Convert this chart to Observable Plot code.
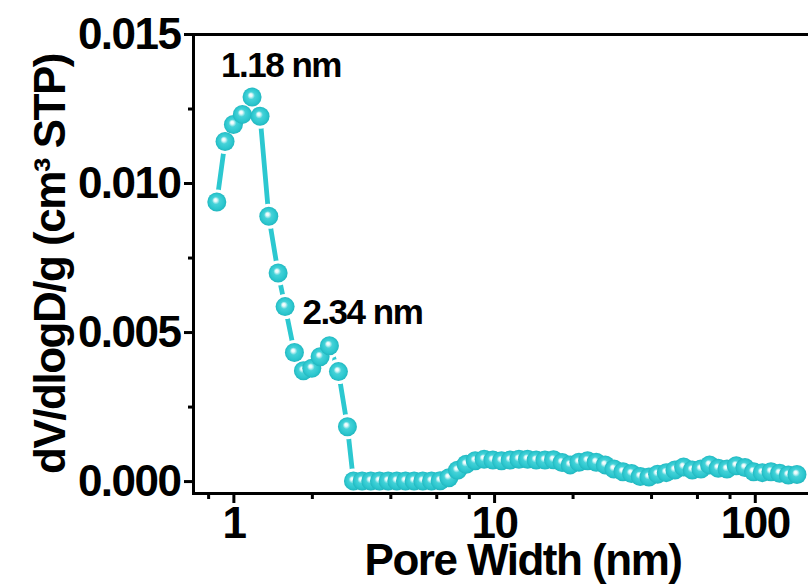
<!DOCTYPE html>
<html><head><meta charset="utf-8">
<script src="https://cdn.jsdelivr.net/npm/d3@7"></script>
<script src="https://cdn.jsdelivr.net/npm/@observablehq/plot@0.6"></script>
<style>
body{margin:0;background:#fff;}
svg text{letter-spacing:-1.5px;}
</style>
</head><body><div id="chart"></div>
<script>
// Pore width (nm)
const poreWidth = [0.860, 0.925, 0.996, 1.078, 1.174, 1.260, 1.361, 1.478, 1.572, 1.707,
  1.848, 1.990, 2.142, 2.325, 2.518, 2.726, 2.875, 3.104, 3.351, 3.618,
  3.906, 4.217, 4.552, 4.914, 5.306, 5.728, 6.184, 6.677, 7.208, 7.780,
  8.427, 9.12, 9.85, 10.63, 11.48, 12.40, 13.38, 14.44, 15.60, 16.83,
  18.16, 19.50, 21.06, 22.73, 24.54, 26.57, 28.70, 31.08, 33.52, 36.21,
  39.09, 42.2, 45.55, 49.19, 53.09, 57.32, 61.89, 66.79, 72.11, 77.88,
  84.53, 91.3, 98.5, 106.4, 114.9, 124.0, 133.9, 144.5];
// dV/dlogD (cm3 STP /g)
const dVdlogD = [0.00938, 0.01141, 0.01198, 0.01232, 0.01290, 0.01226, 0.00890, 0.00700, 0.00587, 0.00433,
  0.00372, 0.00380, 0.00419, 0.00456, 0.00369, 0.00184, 0.00002, 0.00002, 0.00002, 0.00002,
  0.00002, 0.00002, 0.00002, 0.00002, 0.00002, 0.00002, 0.00003, 0.00013, 0.00038, 0.00058,
  0.00070, 0.00075, 0.00072, 0.00070, 0.00072, 0.00075, 0.00075, 0.00072, 0.00072, 0.00073,
  0.00064, 0.00056, 0.00065, 0.00070, 0.00065, 0.00056, 0.00042, 0.00033, 0.00027, 0.00017,
  0.00015, 0.00025, 0.00030, 0.00039, 0.00049, 0.00039, 0.00042, 0.00056, 0.00045, 0.00042,
  0.00053, 0.00047, 0.00033, 0.00030, 0.00033, 0.00028, 0.00022, 0.00024];

const xMajorTicks = [1, 10, 100];
const xMinorTicks = [0.8, 2, 4, 6, 8, 20, 40, 60, 80];
const yMajorTicks = [0, 0.005, 0.010, 0.015];
const yMinorTicks = [0.0025, 0.0075, 0.0125];
const peakLabels = ["1.18 nm", "2.34 nm"];
const peakIndex = [4, 13];
const xTitle = "Pore Width (nm)";
const yTitle = "dV/dlogD/g (cm³ STP)";

const data = poreWidth.map((w, i) => ({w, v: dVdlogD[i]}));
const peaks = peakIndex.map((k, j) => ({w: poreWidth[k], v: dVdlogD[k], label: peakLabels[j]}));

const teal = "#2cc8d0";

const plot = Plot.plot({
  width: 808,
  height: 587,
  marginLeft: 193,
  marginRight: 0,
  marginTop: 34,
  marginBottom: 94,
  style: {fontFamily: "'Liberation Sans', Arial, sans-serif", fontSize: "44px", fontWeight: "bold", color: "#000", background: "#fff"},
  x: {type: "log", domain: [0.7, 160], axis: null},
  y: {domain: [-0.0004, 0.015], axis: null},
  marks: [
    Plot.line(data, {x: "w", y: "v", stroke: teal, strokeWidth: 4.8}),
    Plot.dot(data, {x: "w", y: "v", r: 12.5, fill: "#fff", stroke: "none"}),
    Plot.dot(data, {x: "w", y: "v", r: 9.5, fill: "url(#ball)", stroke: "none"}),
    Plot.frame({anchor: "left", stroke: "#000", strokeWidth: 3}),
    Plot.frame({anchor: "bottom", stroke: "#000", strokeWidth: 3}),
    Plot.frame({anchor: "top", stroke: "#000", strokeWidth: 3}),
    Plot.axisX({ticks: xMajorTicks, tickSize: 10, tickPadding: 3, strokeWidth: 3, tickFormat: d => String(d), label: null, fontSize: 44}),
    Plot.axisX({ticks: xMinorTicks, tickSize: 6, strokeWidth: 3, tickFormat: () => "", label: null}),
    Plot.axisY({ticks: yMajorTicks, tickSize: 9, tickPadding: 4, strokeWidth: 3, tickFormat: d3.format(".3f"), label: null, fontSize: 44}),
    Plot.axisY({ticks: yMinorTicks, tickSize: 5, strokeWidth: 3, tickFormat: () => "", label: null}),
    Plot.text([peaks[0]], {x: "w", y: "v", text: "label", textAnchor: "start", lineAnchor: "bottom", dx: -31, dy: -20, fontSize: 35, fontWeight: "bold"}),
    Plot.text([peaks[1]], {x: "w", y: "v", text: "label", textAnchor: "start", lineAnchor: "bottom", dx: -27, dy: -22, fontSize: 35, fontWeight: "bold"}),
    Plot.text([xTitle], {frameAnchor: "bottom", textAnchor: "middle", lineAnchor: "bottom", dx: 22, dy: 81, fontSize: 44, fontWeight: "bold"}),
    Plot.text([yTitle], {frameAnchor: "left", rotate: -90, textAnchor: "middle", lineAnchor: "bottom", dx: -129, fontSize: 44, fontWeight: "bold"})
  ]
});

// radial gradient for glossy balls
const ns = "http://www.w3.org/2000/svg";
const defs = document.createElementNS(ns, "defs");
defs.innerHTML = `<radialGradient id="ball" cx="50%" cy="50%" r="50%" fx="42%" fy="38%">
  <stop offset="0%" stop-color="#ffffff"/>
  <stop offset="16%" stop-color="#e4f9fa"/>
  <stop offset="40%" stop-color="#45d2d8"/>
  <stop offset="80%" stop-color="#2bc6ce"/>
  <stop offset="100%" stop-color="#22b6be"/>
</radialGradient>`;
plot.insertBefore(defs, plot.firstChild);
document.getElementById("chart").appendChild(plot);
</script>
</body></html>
